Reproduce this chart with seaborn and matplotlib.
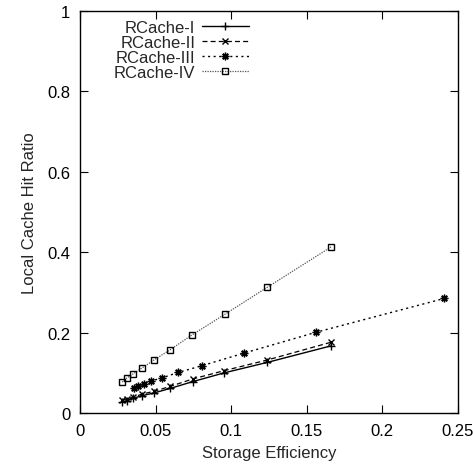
import matplotlib
matplotlib.use("Agg")
import matplotlib.pyplot as plt
import seaborn as sns
import pandas as pd

x_1 = [0.028, 0.031, 0.035, 0.041, 0.049, 0.0595, 0.0745, 0.095, 0.124, 0.166]
y_1 = [0.027, 0.031, 0.0365, 0.043, 0.050, 0.061, 0.078, 0.0995, 0.126, 0.167]
x_2 = [0.028, 0.031, 0.035, 0.041, 0.049, 0.0595, 0.0745, 0.095, 0.124, 0.166]
y_2 = [0.032, 0.035, 0.039, 0.047, 0.054, 0.066, 0.0846, 0.105, 0.132, 0.176]
x_3 = [0.036, 0.0386, 0.042, 0.0467, 0.054, 0.065, 0.081, 0.1085, 0.156, 0.241]
y_3 = [0.062, 0.066, 0.072, 0.079, 0.087, 0.101, 0.118, 0.149, 0.2007, 0.285]
x_4 = [0.028, 0.031, 0.035, 0.041, 0.049, 0.0595, 0.074, 0.096, 0.124, 0.166]
y_4 = [0.077, 0.087, 0.097, 0.112, 0.132, 0.157, 0.194, 0.246, 0.313, 0.413]
labels = ["RCache-I", "RCache-II", "RCache-III", "RCache-IV"]
xticks = [0, 0.05, 0.1, 0.15, 0.2, 0.25]
yticks = [0, 0.2, 0.4, 0.6, 0.8, 1]

sns.set_theme(style="white")
plt.rcParams['font.family'] = ['Liberation Sans', 'DejaVu Sans']

fig = plt.figure(figsize=(4.73, 4.77), dpi=100)
ax = fig.add_axes([80/473, 1-414/477, 378/473, 402/477])

series = [(x_1, y_1), (x_2, y_2), (x_3, y_3), (x_4, y_4)]
styles = [
    dict(linestyle='-', marker='+', markersize=6, color='black', lw=1.0),
    dict(linestyle=(0, (4, 2.5)), marker='x', markersize=4.5, color='black', lw=0.9),
    dict(linestyle=(0, (1.5, 2.5)), marker=(8, 2, 0), markersize=5.5, color='black', lw=1.0),
    dict(linestyle=(0, (1, 1)), marker='s', markersize=5, color='#555555', lw=0.9,
         markerfacecolor='none'),
]
for (xs, ys), lab, st in zip(series, labels, styles):
    df = pd.DataFrame({"x": xs, "y": ys})
    sns.lineplot(data=df, x="x", y="y", ax=ax, label=lab, sort=False,
                 markeredgewidth=1.0, markeredgecolor='black', **st)

ax.set_xlim(0, 0.25)
ax.set_ylim(0, 1)
ax.set_xticks(xticks)
ax.set_xticklabels(["0", "0.05", "0.1", "0.15", "0.2", "0.25"])
ax.set_yticks(yticks)
ax.set_yticklabels(["0", "0.2", "0.4", "0.6", "0.8", "1"])
ax.tick_params(direction='in', length=6, width=0.8, top=True, right=True,
               bottom=True, left=True, labelsize=12, pad=7, colors='black')
for s in ax.spines.values():
    s.set_color('black')
    s.set_linewidth(1.0)
ax.set_xlabel("Storage Efficiency", fontsize=12, labelpad=5)
ax.set_ylabel("Local Cache Hit Ratio", fontsize=12, labelpad=7)

leg = ax.legend(loc='upper left', bbox_to_anchor=(0.065, 1.0), frameon=False,
                markerfirst=False, fontsize=12, handlelength=2.8,
                labelspacing=0.0, handletextpad=0.4, borderaxespad=0.15)
for t in leg.get_texts():
    t.set_ha('right')
leg._legend_box.align = "right"

fig.savefig("out.png", dpi=100)
